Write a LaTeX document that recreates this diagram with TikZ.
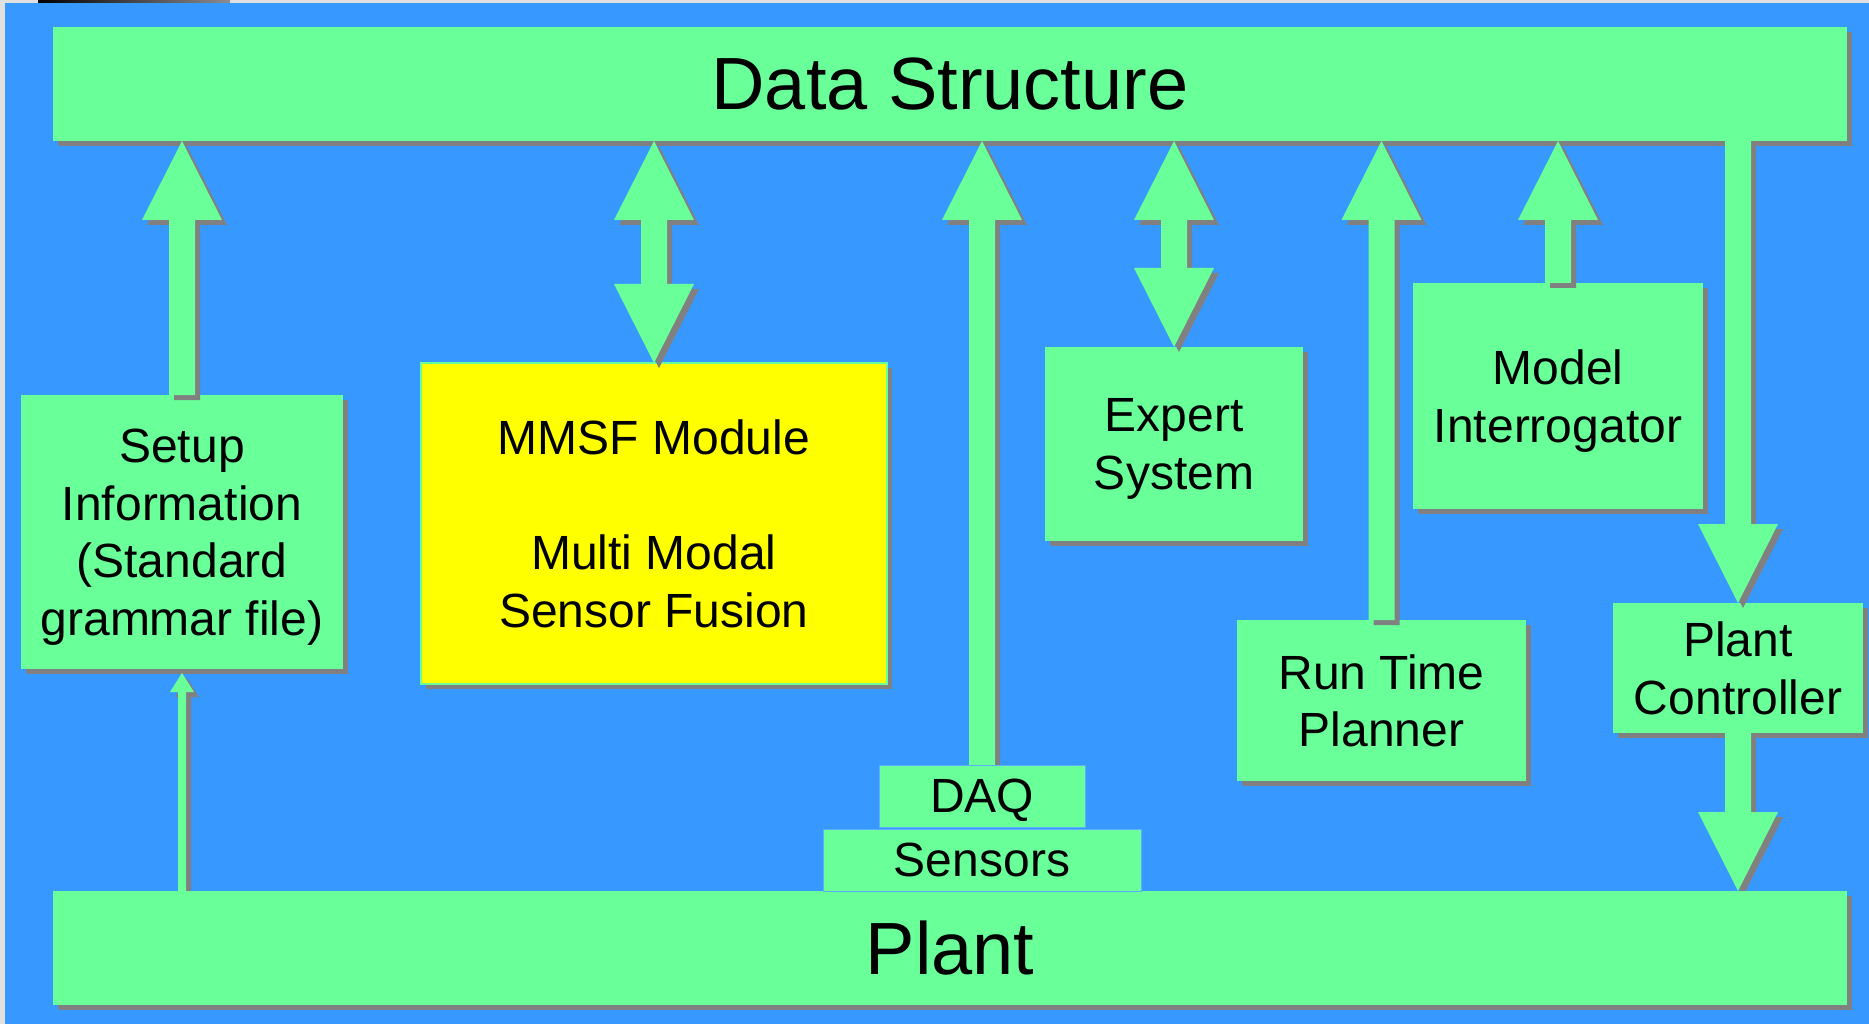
\documentclass[tikz,border=0pt]{standalone}
\usepackage{fontspec}
\setmainfont{Liberation Sans}
\usetikzlibrary{calc,shadows}

\definecolor{bgblue}{RGB}{55,152,255}
\definecolor{boxgreen}{RGB}{105,255,153}
\definecolor{boxyellow}{RGB}{255,255,0}
\definecolor{shade}{RGB}{128,128,128}
\definecolor{edgegrey}{RGB}{224,224,224}

\pgfdeclarelayer{top}
\pgfsetlayers{main,top}

\newcommand\mainsz{\fontsize{48pt}{57.5pt}\selectfont}
\newcommand\bigsz{\fontsize{74pt}{88pt}\selectfont}

% block-arrow dimensions: half head width, head height, half shaft width
\def\HW{40pt}\def\HH{79pt}\def\SW{13pt}

% arrow pointing up: #1 = foot (on the lower box), #2 = tip
\newcommand\blkup[2]{\fill[arrowbody] let \p1=(#1), \p2=(#2) in
  (\x1,\y2) -- ({\x1+\HW},{\y2-\HH}) -- ({\x1+\SW},{\y2-\HH}) -- ({\x1+\SW},\y1)
  -- ({\x1-\SW},\y1) -- ({\x1-\SW},{\y2-\HH}) -- ({\x1-\HW},{\y2-\HH}) -- cycle;}
% arrow pointing down: #1 = foot (top), #2 = tip
\newcommand\blkdown[2]{\fill[arrowbody] let \p1=(#1), \p2=(#2) in
  (\x1,\y2) -- ({\x1+\HW},{\y2+\HH}) -- ({\x1+\SW},{\y2+\HH}) -- ({\x1+\SW},\y1)
  -- ({\x1-\SW},\y1) -- ({\x1-\SW},{\y2+\HH}) -- ({\x1-\HW},{\y2+\HH}) -- cycle;}
% double-headed arrow: #1 = upper tip, #2 = lower tip
\newcommand\blkboth[2]{\fill[arrowbody] let \p1=(#1), \p2=(#2) in
  (\x1,\y1) -- ({\x1+\HW},{\y1-\HH}) -- ({\x1+\SW},{\y1-\HH}) -- ({\x1+\SW},{\y2+\HH})
  -- ({\x1+\HW},{\y2+\HH}) -- (\x1,\y2) -- ({\x1-\HW},{\y2+\HH}) -- ({\x1-\SW},{\y2+\HH})
  -- ({\x1-\SW},{\y1-\HH}) -- ({\x1-\HW},{\y1-\HH}) -- cycle;}
% slim arrow pointing up: #1 = foot, #2 = tip
\newcommand\blkthin[2]{\fill[arrowbody] let \p1=(#1), \p2=(#2) in
  (\x1,{\y2-4pt}) -- ({\x1+12pt},{\y2-23pt}) -- ({\x1+4pt},{\y2-23pt}) -- ({\x1+4pt},\y1)
  -- ({\x1-4pt},\y1) -- ({\x1-4pt},{\y2-23pt}) -- ({\x1-12pt},{\y2-23pt}) -- cycle;}

\begin{document}
\begin{tikzpicture}[x=1pt,y=-1pt,
  shadowed/.style={drop shadow={shadow xshift=5pt,shadow yshift=-5pt,fill=shade,opacity=1}},
  box/.style={fill=boxgreen,shadowed,inner sep=0pt,outer sep=0pt,align=center,
              text depth=0pt,font=\mainsz},
  bigbox/.style={box,font=\bigsz},
  tier/.style={fill=boxgreen,draw=bgblue!80!white,line width=1pt,inner sep=0pt,
               outer sep=0pt,text depth=0pt,font=\mainsz},
  arrowbody/.style={fill=boxgreen,shadowed}]

\useasboundingbox (0,0) rectangle (1869,1024);
\fill[edgegrey] (0,0) rectangle (1869,1024);
\fill[bgblue] (5,3) rectangle (1869,1024);
\shade[left color=black,right color=gray!90] (38,0) rectangle (230,3);

% main blocks
\node[bigbox,minimum width=1794pt,minimum height=114pt] (ds) at (950,84) {Data Structure};
\node[box,minimum width=322pt,minimum height=274pt] (setup) at (182,532)
  {Setup\\Information\\(Standard\\grammar file)};
\node[box,fill=boxyellow,draw=boxgreen,line width=1.2pt,minimum width=466pt,minimum height=321pt]
  (mmsf) at (654,523.5) {MMSF Module\\[57.5pt]Multi Modal\\Sensor Fusion};
\node[box,minimum width=258pt,minimum height=194pt] (es) at (1174,444) {Expert\\System};
\node[box,minimum width=290pt,minimum height=226pt] (mi) at (1558,396) {Model\\Interrogator};
\node[box,minimum width=289pt,minimum height=161pt] (rtp) at (1381.5,700.5) {Run Time\\Planner};
\node[box,minimum width=250pt,minimum height=130pt] (pc) at (1738,668) {Plant\\Controller};

% plant and the sensing stack on it, kept above the arrow shadows
\begin{pgfonlayer}{top}
\node[bigbox,minimum width=1794pt,minimum height=114pt] (plant) at (950,948) {Plant};
\node[tier,minimum width=206pt,minimum height=62pt] (daq) at (982,796) {DAQ};
\node[tier,minimum width=318pt,minimum height=62pt] (sensors) at (982,860) {Sensors};
\end{pgfonlayer}

% connectors
\blkup{setup.north}{setup.north |- ds.south}
\blkboth{mmsf.north |- ds.south}{mmsf.north}
\blkboth{es.north |- ds.south}{es.north}
\blkup{rtp.north}{rtp.north |- ds.south}
\blkup{mi.north}{mi.north |- ds.south}
\blkdown{pc.north |- ds.south}{pc.north}
\blkdown{pc.south}{pc.south |- plant.north}
\blkthin{setup.south |- plant.north}{setup.south}
\blkup{daq.north}{daq.north |- ds.south}
\end{tikzpicture}
\end{document}
